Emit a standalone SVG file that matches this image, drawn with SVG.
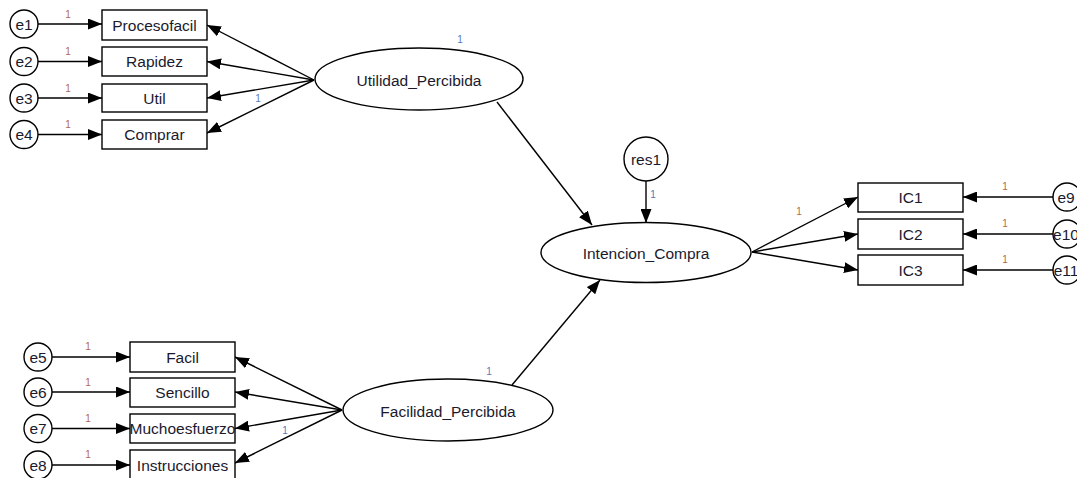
<svg xmlns="http://www.w3.org/2000/svg" width="1077" height="478" viewBox="0 0 1077 478">
<style>
.sh{fill:#fff;stroke:#000;stroke-width:1.4}
.t{font-family:"Liberation Sans",Arial,sans-serif;font-size:15.5px;fill:#1a1a2e;text-anchor:middle;dominant-baseline:central}
.c{stroke:#000;stroke-width:1.4;fill:none;marker-end:url(#ah)}
.lr{font-family:"Liberation Sans",Arial,sans-serif;font-size:10px;fill:#b06a4a;text-anchor:middle}
.lb{font-family:"Liberation Sans",Arial,sans-serif;font-size:10px;fill:#5a78b8;text-anchor:middle}
</style>
<defs>
<marker id="ah" markerUnits="userSpaceOnUse" markerWidth="14" markerHeight="11" refX="14" refY="5.5" orient="auto">
<path d="M0,0 L14,5.5 L0,11 z" fill="#000"/>
</marker>
</defs>
<rect width="1077" height="478" fill="#fff"/>
<g id="connectors">
<line class="c" x1="38" y1="24" x2="102" y2="24"/>
<line class="c" x1="38" y1="61.5" x2="102" y2="61.5"/>
<line class="c" x1="38" y1="98" x2="102" y2="98"/>
<line class="c" x1="38" y1="134.5" x2="102" y2="134.5"/>
<line class="c" x1="314" y1="80" x2="207" y2="25"/>
<line class="c" x1="314" y1="80" x2="207" y2="61.5"/>
<line class="c" x1="314" y1="80" x2="207" y2="98"/>
<line class="c" x1="314" y1="80" x2="207" y2="133"/>
<line class="c" x1="497" y1="102" x2="592" y2="225"/>
<line class="c" x1="512" y1="385" x2="600" y2="280"/>
<line class="c" x1="646" y1="181" x2="646" y2="223"/>
<line class="c" x1="752" y1="252" x2="858" y2="197"/>
<line class="c" x1="752" y1="252" x2="858" y2="234"/>
<line class="c" x1="752" y1="252" x2="858" y2="270"/>
<line class="c" x1="1053" y1="197" x2="963" y2="197"/>
<line class="c" x1="1053" y1="234" x2="963" y2="234"/>
<line class="c" x1="1053" y1="270" x2="963" y2="270"/>
<line class="c" x1="52" y1="357" x2="130" y2="357"/>
<line class="c" x1="52" y1="392" x2="130" y2="392"/>
<line class="c" x1="52" y1="428.5" x2="130" y2="428.5"/>
<line class="c" x1="52" y1="465" x2="130" y2="465"/>
<line class="c" x1="342" y1="410" x2="235" y2="357"/>
<line class="c" x1="342" y1="410" x2="235" y2="392"/>
<line class="c" x1="342" y1="410" x2="235" y2="428.5"/>
<line class="c" x1="342" y1="410" x2="235" y2="463"/>
<text class="lr" x="68" y="18">1</text>
<text class="lr" x="68" y="55">1</text>
<text class="lr" x="68" y="92">1</text>
<text class="lr" x="68" y="128">1</text>
<text class="lb" x="258" y="102">1</text>
<text class="lb" x="460" y="43">1</text>
<text class="lb" x="653" y="198">1</text>
<text class="lr" x="799" y="215">1</text>
<text class="lr" x="1005" y="190">1</text>
<text class="lr" x="1005" y="227">1</text>
<text class="lr" x="1005" y="263">1</text>
<text class="lr" x="88" y="350">1</text>
<text class="lr" x="88" y="386">1</text>
<text class="lr" x="88" y="422">1</text>
<text class="lr" x="88" y="458">1</text>
<text class="lb" x="285" y="434">1</text>
<text class="lb" x="489" y="375">1</text>
</g>
<g id="e1"><circle class="sh" cx="24" cy="24" r="14"/><text class="t" x="24" y="24">e1</text></g>
<g id="e2"><circle class="sh" cx="24" cy="61.5" r="14"/><text class="t" x="24" y="61.5">e2</text></g>
<g id="e3"><circle class="sh" cx="24" cy="98" r="14"/><text class="t" x="24" y="98">e3</text></g>
<g id="e4"><circle class="sh" cx="24" cy="134.5" r="14"/><text class="t" x="24" y="134.5">e4</text></g>
<g id="Procesofacil"><rect class="sh" x="102" y="10" width="105" height="30"/><text class="t" x="154.5" y="25">Procesofacil</text></g>
<g id="Rapidez"><rect class="sh" x="102" y="47" width="105" height="29"/><text class="t" x="154.5" y="61.5">Rapidez</text></g>
<g id="Util"><rect class="sh" x="102" y="84" width="105" height="28"/><text class="t" x="154.5" y="98">Util</text></g>
<g id="Comprar"><rect class="sh" x="102" y="120" width="105" height="29"/><text class="t" x="154.5" y="134.5">Comprar</text></g>
<g id="Utilidad_Percibida"><ellipse class="sh" cx="419" cy="79" rx="104" ry="31"/><text class="t" x="419" y="80">Utilidad_Percibida</text></g>
<g id="res1"><circle class="sh" cx="646" cy="159" r="22"/><text class="t" x="646" y="159">res1</text></g>
<g id="Intencion_Compra"><ellipse class="sh" cx="646" cy="252.5" rx="105" ry="30"/><text class="t" x="646" y="253">Intencion_Compra</text></g>
<g id="IC1"><rect class="sh" x="858" y="183" width="105" height="29"/><text class="t" x="910.5" y="197.5">IC1</text></g>
<g id="IC2"><rect class="sh" x="858" y="219" width="105" height="30"/><text class="t" x="910.5" y="234">IC2</text></g>
<g id="IC3"><rect class="sh" x="858" y="255" width="105" height="30"/><text class="t" x="910.5" y="270">IC3</text></g>
<g id="e9"><circle class="sh" cx="1067" cy="197" r="14"/><text class="t" x="1066" y="197">e9</text></g>
<g id="e10"><circle class="sh" cx="1067" cy="234" r="14"/><text class="t" x="1066" y="234">e10</text></g>
<g id="e11"><circle class="sh" cx="1067" cy="270" r="14"/><text class="t" x="1066" y="270">e11</text></g>
<g id="e5"><circle class="sh" cx="38" cy="357" r="14"/><text class="t" x="38" y="357">e5</text></g>
<g id="e6"><circle class="sh" cx="38" cy="392" r="14"/><text class="t" x="38" y="392">e6</text></g>
<g id="e7"><circle class="sh" cx="38" cy="428.5" r="14"/><text class="t" x="38" y="428.5">e7</text></g>
<g id="e8"><circle class="sh" cx="38" cy="465" r="14"/><text class="t" x="38" y="465">e8</text></g>
<g id="Facil"><rect class="sh" x="130" y="342" width="105" height="30"/><text class="t" x="182.5" y="357">Facil</text></g>
<g id="Sencillo"><rect class="sh" x="130" y="378" width="105" height="29"/><text class="t" x="182.5" y="392.5">Sencillo</text></g>
<g id="Muchoesfuerzo"><rect class="sh" x="130" y="414" width="105" height="29"/><text class="t" x="182.5" y="428.5">Muchoesfuerzo</text></g>
<g id="Instrucciones"><rect class="sh" x="130" y="450" width="105" height="30"/><text class="t" x="182.5" y="465">Instrucciones</text></g>
<g id="Facilidad_Percibida"><ellipse class="sh" cx="448" cy="410" rx="105" ry="31"/><text class="t" x="448" y="411">Facilidad_Percibida</text></g>
</svg>
